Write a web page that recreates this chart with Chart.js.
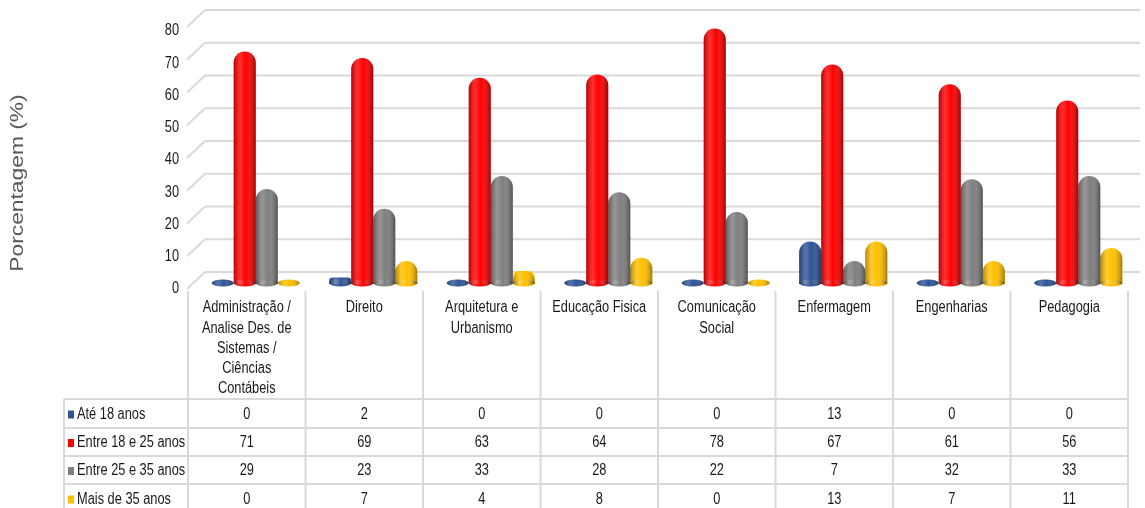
<!DOCTYPE html>
<html>
<head>
<meta charset="utf-8">
<script src="https://cdn.jsdelivr.net/npm/chart.js@4.4.1/dist/chart.umd.min.js"></script>
<style>
 html, body { margin: 0; padding: 0; background: #fff; }
</style>
</head>
<body>
<canvas id="myChart" width="1145" height="508"></canvas>
<script>
'use strict';

// data
var categories = [
  ['Administração /', 'Analise Des. de', 'Sistemas /', 'Ciências', 'Contábeis'],
  ['Direito'],
  ['Arquitetura e', 'Urbanismo'],
  ['Educação Fisica'],
  ['Comunicação', 'Social'],
  ['Enfermagem'],
  ['Engenharias'],
  ['Pedagogia']
];
var seriesNames = ['Até 18 anos', 'Entre 18 e 25 anos', 'Entre 25 e 35 anos', 'Mais de 35 anos'];
var ate18 = [0, 2, 0, 0, 0, 13, 0, 0];
var entre18e25 = [71, 69, 63, 64, 78, 67, 61, 56];
var entre25e35 = [29, 23, 33, 28, 22, 7, 32, 33];
var mais35 = [0, 7, 4, 8, 0, 13, 7, 11];
var yMin = 0, yMax = 80, yStep = 10;
var yTitle = 'Porcentagem (%)';

var seriesData = [ate18, entre18e25, entre25e35, mais35];
var colors = ['#2f5597', '#ff0000', '#7f7f7f', '#ffc000'];
var textFont = "16px 'Liberation Sans', Arial, sans-serif";
var squeeze = 0.8;   // no narrow font installed, so squeeze the normal one
var depth = 9;       // 3d shift of the back wall
var gridColor = '#d9d9d9';

function line(c, x1, y1, x2, y2) {
  c.beginPath(); c.moveTo(x1, y1); c.lineTo(x2, y2); c.stroke();
}

function narrowText(c, txt, x, y, align) {
  c.save();
  c.translate(x, y);
  c.scale(squeeze, 1);
  c.textAlign = align;
  c.fillText(txt, 0, 0);
  c.restore();
}

// back wall grid with the little 3d diagonals
var backGrid = {
  id: 'backGrid',
  beforeDatasetsDraw: function (chart) {
    var c = chart.ctx, ys = chart.scales.y, area = chart.chartArea;
    c.save();
    c.strokeStyle = gridColor;
    c.lineWidth = 2;
    ys.ticks.forEach(function (t) {
      var p = ys.getPixelForValue(t.value);
      line(c, area.left - 10, p + 5, area.left + 8, p - 12);
      line(c, area.left + 8, p - 12, area.right + 3, p - 12);
    });
    c.restore();
  }
};

// cylinder look on the bars, flat discs for zero values
var cylinders = {
  id: 'cylinders',
  afterDatasetsDraw: function (chart) {
    var c = chart.ctx;
    chart.data.datasets.forEach(function (ds, di) {
      chart.getDatasetMeta(di).data.forEach(function (bar, i) {
        var w = bar.width, x0 = bar.x - w / 2, h = bar.base - bar.y;
        var g = c.createLinearGradient(x0, 0, x0 + w, 0);
        g.addColorStop(0, 'rgba(0,0,0,0.30)');
        g.addColorStop(0.3, 'rgba(255,255,255,0.18)');
        g.addColorStop(0.55, 'rgba(255,255,255,0)');
        g.addColorStop(1, 'rgba(0,0,0,0.38)');
        c.save();
        c.fillStyle = ds.backgroundColor;
        c.beginPath();
        c.ellipse(bar.x, bar.base - 1, w / 2, 3.5, 0, 0, Math.PI * 2);
        c.fill();
        c.fillStyle = g;
        c.beginPath();
        c.ellipse(bar.x, bar.base - 1, w / 2, 3.5, 0, 0, Math.PI * 2);
        c.fill();
        if (h > 0) {
          var r = Math.min(w / 2, h);
          c.beginPath();
          c.roundRect(x0, bar.y, w, h, [r, r, 0, 0]);
          c.fill();
        }
        c.restore();
      });
    });
  }
};

// tick labels, data table under the chart and rotated axis title
var dataTable = {
  id: 'dataTable',
  afterDraw: function (chart) {
    var c = chart.ctx, xs = chart.scales.x, ys = chart.scales.y;
    var colW = (xs.right - xs.left) / categories.length;
    var left0 = xs.left - depth;
    var right0 = left0 + categories.length * colW;
    var rows = [399, 428, 456, 484, 513];
    c.save();
    c.strokeStyle = gridColor;
    c.lineWidth = 2;
    for (var k = 0; k <= categories.length; k++) {
      line(c, left0 + k * colW, 291, left0 + k * colW, 508);
    }
    line(c, 64, rows[0], 64, 508);
    rows.forEach(function (y) { line(c, 64, y, right0, y); });

    c.font = textFont;
    c.textBaseline = 'middle';
    c.fillStyle = '#1a1a1a';

    // y ticks sit on the front edge of the floor, a bit lower than the wall
    ys.ticks.forEach(function (t) {
      var p = ys.getPixelForValue(t.value);
      narrowText(c, String(t.value), 179, p + 5 + (ys.bottom - p) * 0.015, 'right');
    });
    // category labels
    xs.ticks.forEach(function (t, i) {
      var lines = categories[t.value];
      lines.forEach(function (s, j) {
        narrowText(c, s, xs.getPixelForTick(i) - depth, 308 + j * 20.2, 'center');
      });
    });
    // table rows
    seriesData.forEach(function (arr, r) {
      var yc = (rows[r] + rows[r + 1]) / 2 + 1;
      c.fillStyle = colors[r];
      c.fillRect(68, yc - 4, 6, 8);
      c.fillStyle = '#1a1a1a';
      narrowText(c, seriesNames[r], 77, yc, 'left');
      arr.forEach(function (v, i) {
        narrowText(c, String(v), left0 + (i + 0.5) * colW, yc, 'center');
      });
    });

    c.translate(18, 183);
    c.rotate(-Math.PI / 2);
    c.scale(1.2, 1);
    c.font = "19px 'Liberation Sans', Arial, sans-serif";
    c.fillStyle = '#595959';
    c.textAlign = 'center';
    c.fillText(yTitle, 0, 0);
    c.restore();
  }
};

var ctx = document.getElementById('myChart');
var myChart = new Chart(ctx, {
  type: 'bar',
  data: {
    labels: categories,
    datasets: seriesData.map(function (arr, i) {
      return {
        label: seriesNames[i],
        data: arr,
        backgroundColor: colors[i],
        borderWidth: 0,
        borderRadius: 11,
        borderSkipped: 'start',
        barPercentage: 1,
        categoryPercentage: 0.75
      };
    })
  },
  options: {
    responsive: false,
    animation: false,
    layout: { padding: { top: 22, right: 8, left: 0, bottom: 0 } },
    plugins: { legend: { display: false }, tooltip: { enabled: false } },
    scales: {
      x: {
        grid: { display: false, drawTicks: false },
        border: { display: false },
        ticks: { display: false, autoSkip: false },
        afterFit: function (s) { s.height = 224; }
      },
      y: {
        min: yMin,
        max: yMax,
        grid: { display: false, drawTicks: false },
        border: { display: false },
        ticks: { display: false, stepSize: yStep },
        afterFit: function (s) { s.width = 197; }
      }
    }
  },
  plugins: [backGrid, cylinders, dataTable]
});
</script>
</body>
</html>
